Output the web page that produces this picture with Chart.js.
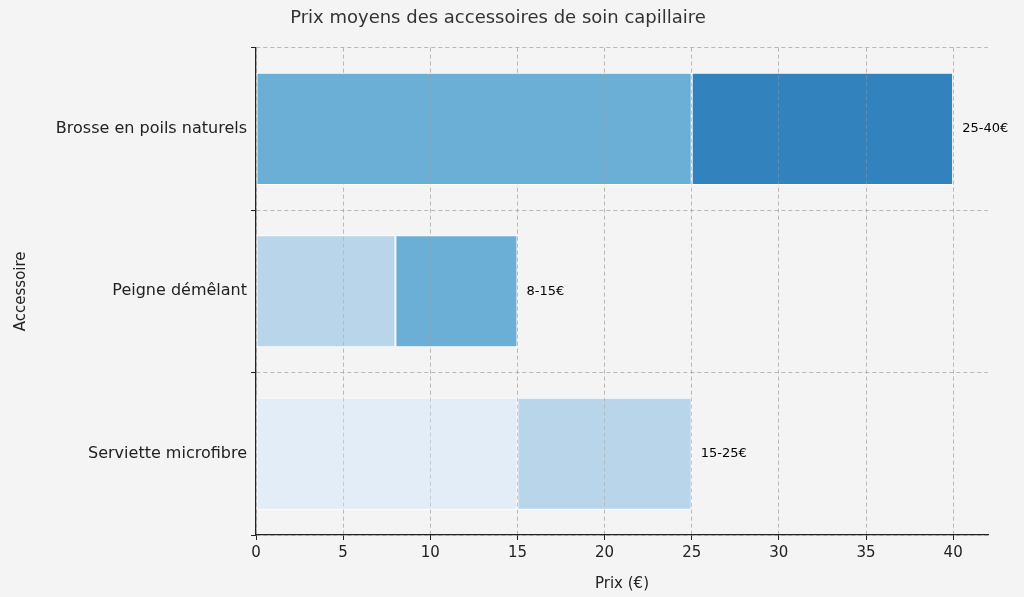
<!DOCTYPE html>
<html><head><meta charset="utf-8">
<script src="https://cdn.jsdelivr.net/npm/chart.js@4"></script>
<style>html,body{margin:0;background:#f4f4f4}#w{width:1024px;height:597px}</style>
</head><body><div id="w"><canvas id="c"></canvas></div>
<script>
const categories = ["Brosse en poils naturels", "Peigne démêlant", "Serviette microfibre"];
const minPrices = [25, 8, 15];
const maxPrices = [40, 15, 25];
const rangeLabels = ["25-40€", "8-15€", "15-25€"];
const baseColors = ["#6baed6", "#b9d5ea", "#e3edf7"];
const rangeColors = ["#3182bd", "#6baed6", "#b9d5ea"];
const xTicks = [0,5,10,15,20,25,30,35,40];

const F = "'DejaVu Sans', sans-serif";
const bg = {id:'bg',beforeDraw(c){const x=c.ctx;x.save();x.fillStyle='#f4f4f4';x.fillRect(0,0,c.width,c.height);x.restore();}};
const over = {id:'over',afterDatasetsDraw(c){
  c.scales.x.drawGrid(c.chartArea); c.scales.y.drawGrid(c.chartArea);
  const ctx=c.ctx, meta=c.getDatasetMeta(1);
  ctx.save();ctx.font="13px "+F;ctx.fillStyle='#000';ctx.textBaseline='middle';
  meta.data.forEach((b,i)=>ctx.fillText(rangeLabels[i], b.x+9, b.y));
  ctx.restore();
}};
new Chart(document.getElementById('c'),{
  type:'bar',
  data:{labels:categories,datasets:[
    {label:'min',data:minPrices,backgroundColor:baseColors,borderColor:'#ffffff',borderWidth:1,borderSkipped:false},
    {label:'range',data:maxPrices.map((v,i)=>v-minPrices[i]),backgroundColor:rangeColors,borderColor:'#ffffff',borderWidth:1,borderSkipped:false}
  ]},
  options:{indexAxis:'y',responsive:true,maintainAspectRatio:false,animation:false,
    barPercentage:0.69,categoryPercentage:1,
    layout:{padding:{top:8,right:36,left:8}},
    plugins:{legend:{display:false},tooltip:{enabled:false},
      title:{display:true,text:'Prix moyens des accessoires de soin capillaire',color:'#333',font:{family:F,size:18,weight:'normal'},padding:{top:0,bottom:18}}},
    scales:{
      x:{stacked:true,min:0,max:42,afterBuildTicks(s){s.ticks=xTicks.map(v=>({value:v}));},
        afterFit(s){s.height=62;},
        ticks:{color:'#222',font:{family:F,size:15},padding:4},
        grid:{color:'rgba(160,160,160,0.45)',tickLength:5,tickColor:'#222'},
        border:{display:true,color:'#222',width:1.3,dash:[4,3]},
        title:{display:true,text:'Prix (€)',color:'#222',font:{family:F,size:15},padding:{top:8}}},
      y:{stacked:true,afterFit(s){s.width=248;},
        ticks:{color:'#222',font:{family:F,size:16},padding:4},
        grid:{color:'rgba(160,160,160,0.45)',tickLength:5,tickColor:'#222'},
        border:{display:true,color:'#222',width:1.3,dash:[4,3]},
        title:{display:true,text:'Accessoire',color:'#222',font:{family:F,size:15},padding:{bottom:6}}}
    }},
  plugins:[bg,over]
});
</script></body></html>
